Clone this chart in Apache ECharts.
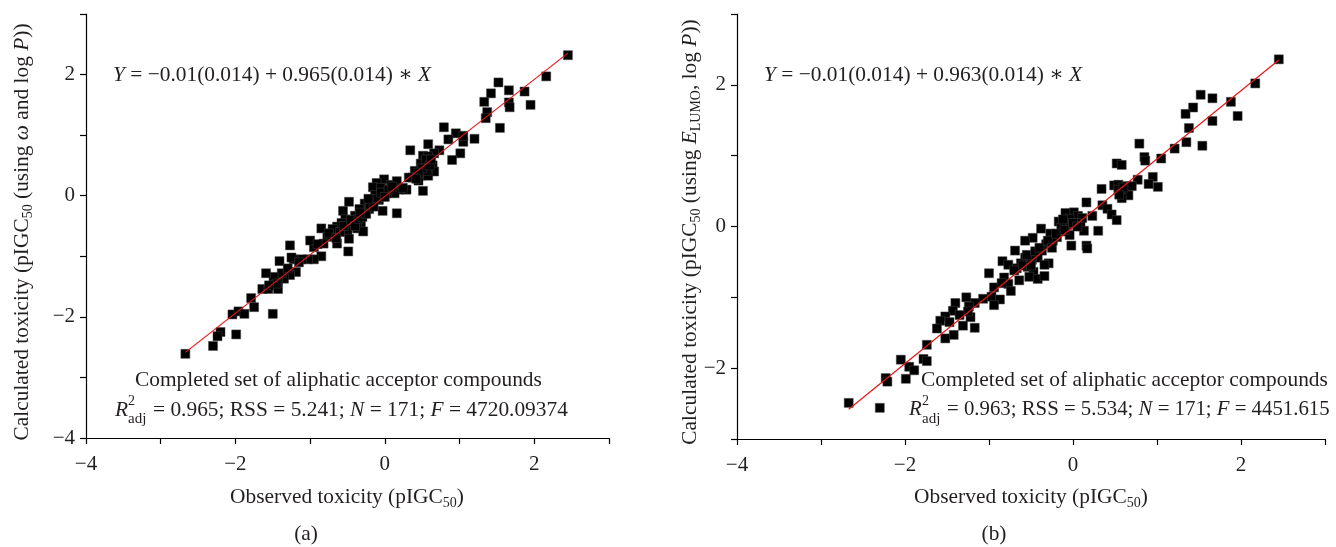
<!DOCTYPE html>
<html>
<head>
<meta charset="utf-8">
<script src="https://cdn.jsdelivr.net/npm/echarts@6/dist/echarts.min.js"></script>
<style>
html,body{margin:0;padding:0;background:#fff;}
#chart{width:1336px;height:547px;}
</style>
</head>
<body>
<div id="chart"></div>
<script>
// ---------- Data ----------
const leftObserved = [
 2.45,2.16,1.52,1.42,1.66,1.87,1.33,1.95,1.66,1.67,1.37,1.35,1.54,0.79,0.95,0.85,1.05,1.20,1.05,0.58,
 1.01,0.90,0.34,0.73,0.66,0.51,0.58,0.48,0.56,0.64,0.40,0.66,0.37,0.47,0.58,0.45,0.56,0.51,0.29,0.32,
 -0.01,-0.11,-0.16,-0.05,0.08,0.16,0.19,0.13,0.24,0.03,-0.13,-0.08,-0.16,-0.03,0.16,-0.27,-0.21,-0.28,-0.34,-0.48,
 -0.40,-0.32,-0.42,-0.37,-0.29,-0.48,-0.56,-0.53,-0.58,-0.64,-0.69,-0.50,-0.48,-0.64,-0.49,-0.85,-0.77,-0.82,-0.95,-1.00,
 -0.85,-0.95,-1.03,-1.11,-1.22,-1.27,-1.25,-1.41,-1.19,-1.27,-1.35,-1.43,-1.38,-1.49,-1.59,-1.51,-1.43,-1.64,-1.56,-1.79,
 -1.75,-1.50,-2.04,-1.96,-1.88,-1.99,-2.20,-2.24,-2.30,-2.67,
 -0.70,-0.60,-0.55,-0.45,-0.40,-0.35,-0.30,-0.25,-0.20,-0.10,-0.05,0.05,0.10,0.00,-0.75,-0.65,-0.90,-1.15,-1.30,-1.45,
 -1.55,0.50,0.55,0.60,0.45,0.42,0.62,-0.15,-0.22,-0.33
];
const leftCalculated = [
 2.32,1.97,1.87,1.69,1.74,1.72,1.55,1.50,1.54,1.46,1.38,1.28,1.12,1.13,1.03,0.93,0.89,0.94,0.99,0.85,
 0.70,0.59,0.75,0.75,0.70,0.66,0.65,0.53,0.56,0.50,0.41,0.40,0.30,0.33,0.33,0.25,0.41,0.08,0.10,0.30,
 0.27,0.21,0.14,0.13,0.18,0.24,0.10,0.04,0.13,0.04,0.01,-0.07,-0.10,-0.25,-0.29,-0.13,-0.22,-0.28,-0.22,-0.10,
 -0.33,-0.45,-0.45,-0.54,-0.59,-0.51,-0.25,-0.39,-0.45,-0.51,-0.59,-0.59,-0.71,-0.79,-0.92,-0.54,-0.68,-0.79,-0.85,-0.74,
 -1.00,-1.05,-1.05,-1.05,-1.05,-0.82,-1.02,-1.08,-1.26,-1.31,-1.37,-1.40,-1.28,-1.34,-1.28,-1.49,-1.54,-1.54,-1.54,-1.69,
 -1.84,-1.95,-1.96,-1.91,-1.95,-2.29,-2.25,-2.32,-2.48,-2.61,
 -0.55,-0.60,-0.50,-0.40,-0.50,-0.38,-0.35,-0.30,-0.15,-0.05,0.05,0.10,0.15,-0.02,-0.62,-0.70,-0.80,-1.10,-1.20,-1.45,
 -1.48,0.45,0.60,0.50,0.38,0.28,0.60,-0.18,-0.05,-0.28
];
const rightObserved = [
 2.45,2.17,1.52,1.66,1.43,1.34,1.88,1.96,1.66,1.38,1.35,1.54,1.21,0.79,0.85,0.86,1.05,0.52,0.58,0.77,
 0.95,0.90,1.01,0.34,0.49,0.54,0.64,0.59,0.70,0.66,0.58,0.54,0.16,0.35,0.41,0.46,0.52,0.23,0.30,0.01,
 -0.09,0.06,0.11,-0.04,-0.17,0.04,-0.07,-0.14,0.09,0.13,-0.09,-0.04,-0.19,-0.27,-0.24,-0.02,0.16,0.17,-0.38,-0.48,
 -0.57,-0.32,-0.37,-0.42,-0.29,-0.34,-0.69,-0.57,-0.49,-0.62,-0.84,-0.77,-0.67,-0.54,-0.47,-0.52,-0.42,-0.34,-0.82,-0.64,
 -0.77,-0.74,-1.00,-0.94,-0.97,-1.07,-0.87,-0.94,-1.17,-1.27,-1.24,-1.22,-1.40,-1.43,-1.52,-1.58,-1.47,-1.31,-1.17,-1.62,
 -1.42,-1.52,-1.74,-2.05,-1.78,-1.74,-1.95,-1.89,-1.99,-2.23,-2.21,-2.30,-2.67,
 -0.55,-0.45,-0.40,-0.30,-0.25,-0.60,-0.50,-0.20,-0.10,0.00,0.05,-0.12,0.60,0.55,-1.25,-1.35,-0.70,-0.85
];
const rightCalculated = [
 2.36,2.02,1.86,1.81,1.68,1.59,1.76,1.56,1.49,1.39,1.19,1.14,1.10,1.17,0.98,0.93,0.96,0.89,0.87,0.66,
 0.70,0.60,0.56,0.53,0.58,0.59,0.57,0.50,0.57,0.44,0.40,0.52,0.34,0.30,0.25,0.17,0.09,0.15,-0.06,0.20,
 0.19,0.15,0.12,0.11,0.07,0.05,0.02,-0.02,0.00,-0.06,-0.07,-0.12,-0.15,-0.10,-0.20,-0.27,-0.27,-0.31,-0.03,-0.16,
 -0.20,-0.25,-0.34,-0.44,-0.52,-0.54,-0.34,-0.44,-0.47,-0.52,-0.49,-0.54,-0.59,-0.57,-0.64,-0.71,-0.74,-0.70,-0.72,-0.76,
 -0.81,-0.91,-0.66,-0.86,-0.99,-1.02,-1.03,-1.11,-1.08,-1.00,-1.13,-1.28,-1.08,-1.19,-1.27,-1.33,-1.35,-1.40,-1.43,-1.44,
 -1.53,-1.58,-1.67,-1.88,-1.87,-1.90,-1.98,-2.03,-2.15,-2.14,-2.19,-2.56,-2.49,
 -0.40,-0.35,-0.30,-0.20,-0.30,-0.55,-0.55,-0.10,-0.05,0.05,0.00,0.10,0.55,0.45,-1.20,-1.25,-0.62,-0.80
];
// regression fits shown in the figure
const leftFit = { intercept: -0.01, slope: 0.965 };
const rightFit = { intercept: -0.01, slope: 0.963 };
// axis ranges and labelled ticks
const xRange = [-4, 3];
const leftYRange = [-4, 3];
const rightYRange = [-3, 3];
const xTickLabels = [-4, -2, 0, 2];
const leftYTickLabels = [-4, -2, 0, 2];
const rightYTickLabels = [-2, 0, 2];

// ---------- Build ----------
const FONT = "'Liberation Serif', 'DejaVu Serif', serif";
const FS = 21;     // tick labels
const AFS = 21.4;  // annotations / titles
const TXT = '#231f20';
function pairs(xs, ys){ return xs.map((x,i)=>[x, ys[i]]); }
function fitLine(xs, fit){
  const lo = Math.min(...xs), hi = Math.max(...xs);
  return [[lo, fit.intercept + fit.slope*lo],[hi, fit.intercept + fit.slope*hi]];
}
function fmt(labels){
  return v => labels.includes(v) ? (v<0 ? '\u2212'+Math.abs(v) : String(v)) : '';
}
function xAxisDef(grid){
  return {
    type:'value', gridIndex:grid, min:xRange[0], max:xRange[1], interval:1,
    axisLine:{show:true, onZero:false, lineStyle:{color:'#000', width:1.2}},
    axisTick:{show:true, inside:false, length:6, lineStyle:{color:'#000', width:1.2}},
    axisLabel:{show:true, margin:16, color:TXT, fontFamily:FONT, fontSize:FS, formatter:fmt(xTickLabels)},
    splitLine:{show:false}
  };
}
function yAxisDef(grid, range, labels){
  return {
    type:'value', gridIndex:grid, min:range[0], max:range[1], interval:1,
    axisLine:{show:true, onZero:false, lineStyle:{color:'#000', width:1.2}},
    axisTick:{show:true, inside:false, length:6, lineStyle:{color:'#000', width:1.2}},
    axisLabel:{show:true, margin:11, color:TXT, fontFamily:FONT, fontSize:FS, formatter:fmt(labels)},
    splitLine:{show:false}
  };
}
function makeRich(size){
  return {
    n:{fontFamily:FONT, fontSize:size, color:TXT, lineHeight:26},
    i:{fontFamily:FONT, fontSize:size, color:TXT, fontStyle:'italic', lineHeight:26},
    s:{fontFamily:FONT, fontSize:14, color:TXT, lineHeight:15, verticalAlign:'bottom'},
    si:{fontFamily:FONT, fontSize:14, color:TXT, lineHeight:15, verticalAlign:'bottom'}
  };
}
function txt(x, y, text, align, rot, size){
  const sz = size || AFS;
  const el = {type:'text', x:x, y:y, z:100,
    style:{text:text, rich:makeRich(sz), font:sz+'px '+FONT, fill:TXT,
      align:align||'left', verticalAlign:'middle', textAlign:align||'left', textVerticalAlign:'middle'}};
  if (rot) el.rotation = rot;
  return el;
}
function small(x, y, text, size){
  return {type:'text', x:x, y:y, z:100,
    style:{text:text, font:size+'px '+FONT, fill:TXT, align:'left', verticalAlign:'middle',
      textAlign:'left', textVerticalAlign:'middle'}};
}
function statLine(x0, y, rest, size){
  return [
    txt(x0, y, '{i|R}', null, 0, size),
    small(x0+13, y-9, '2', 14),
    small(x0+13, y+9, 'adj', 15),
    txt(x0+38, y, rest, null, 0, size)
  ];
}

const graphics = [
  // panel (a)
  txt(113, 75, '{i|Y}{n| = \u22120.01(0.014) + 0.965(0.014) \u2217 }{i|X}'),
  txt(135, 380, '{n|Completed set of aliphatic acceptor compounds}'),
  ...statLine(115, 410, '{n|= 0.965; RSS = 5.241; }{i|N}{n| = 171; }{i|F}{n| = 4720.09374}'),
  txt(347, 497, '{n|Observed toxicity (pIGC}{s|50}{n|)}', 'center'),
  txt(306, 534, '{n|(a)}', 'center'),
  txt(22, 232, '{n|Calculated toxicity (pIGC}{s|50}{n| (using }{i|\u03c9}{n| and log }{i|P}{n|))}', 'center', Math.PI/2),
  // panel (b)
  txt(764, 75, '{i|Y}{n| = \u22120.01(0.014) + 0.963(0.014) \u2217 }{i|X}'),
  txt(921, 380, '{n|Completed set of aliphatic acceptor compounds}'),
  ...statLine(909, 410, '{n|= 0.963; RSS = 5.534; }{i|N}{n| = 171; }{i|F}{n| = 4451.615}', 20.8),
  txt(1031, 497, '{n|Observed toxicity (pIGC}{s|50}{n|)}', 'center'),
  txt(994, 534, '{n|(b)}', 'center'),
  txt(690, 232, '{n|Calculated toxicity (pIGC}{s|50}{n| (using }{i|E}{si|LUMO}{n|, log }{i|P}{n|))}', 'center', Math.PI/2)
];

const chart = echarts.init(document.getElementById('chart'), null, {renderer:'canvas'});
chart.setOption({
  animation:false,
  backgroundColor:'#fff',
  grid:[
    {left:86, top:14, width:523, height:424},
    {left:737, top:14, width:588, height:425}
  ],
  xAxis:[xAxisDef(0), xAxisDef(1)],
  yAxis:[yAxisDef(0, leftYRange, leftYTickLabels), yAxisDef(1, rightYRange, rightYTickLabels)],
  series:[
    {type:'scatter', xAxisIndex:0, yAxisIndex:0, symbol:'rect', symbolSize:9,
      itemStyle:{color:'#000', borderColor:'#444', borderWidth:0.5, opacity:1},
      data:pairs(leftObserved, leftCalculated), z:2},
    {type:'line', xAxisIndex:0, yAxisIndex:0, data:fitLine(leftObserved, leftFit), symbol:'none',
      lineStyle:{color:'#e8161b', width:1.2}, z:3},
    {type:'scatter', xAxisIndex:1, yAxisIndex:1, symbol:'rect', symbolSize:9,
      itemStyle:{color:'#000', borderColor:'#444', borderWidth:0.5, opacity:1},
      data:pairs(rightObserved, rightCalculated), z:2},
    {type:'line', xAxisIndex:1, yAxisIndex:1, data:fitLine(rightObserved, rightFit), symbol:'none',
      lineStyle:{color:'#e8161b', width:1.2}, z:3}
  ],
  graphic:graphics
});
</script>
</body>
</html>
